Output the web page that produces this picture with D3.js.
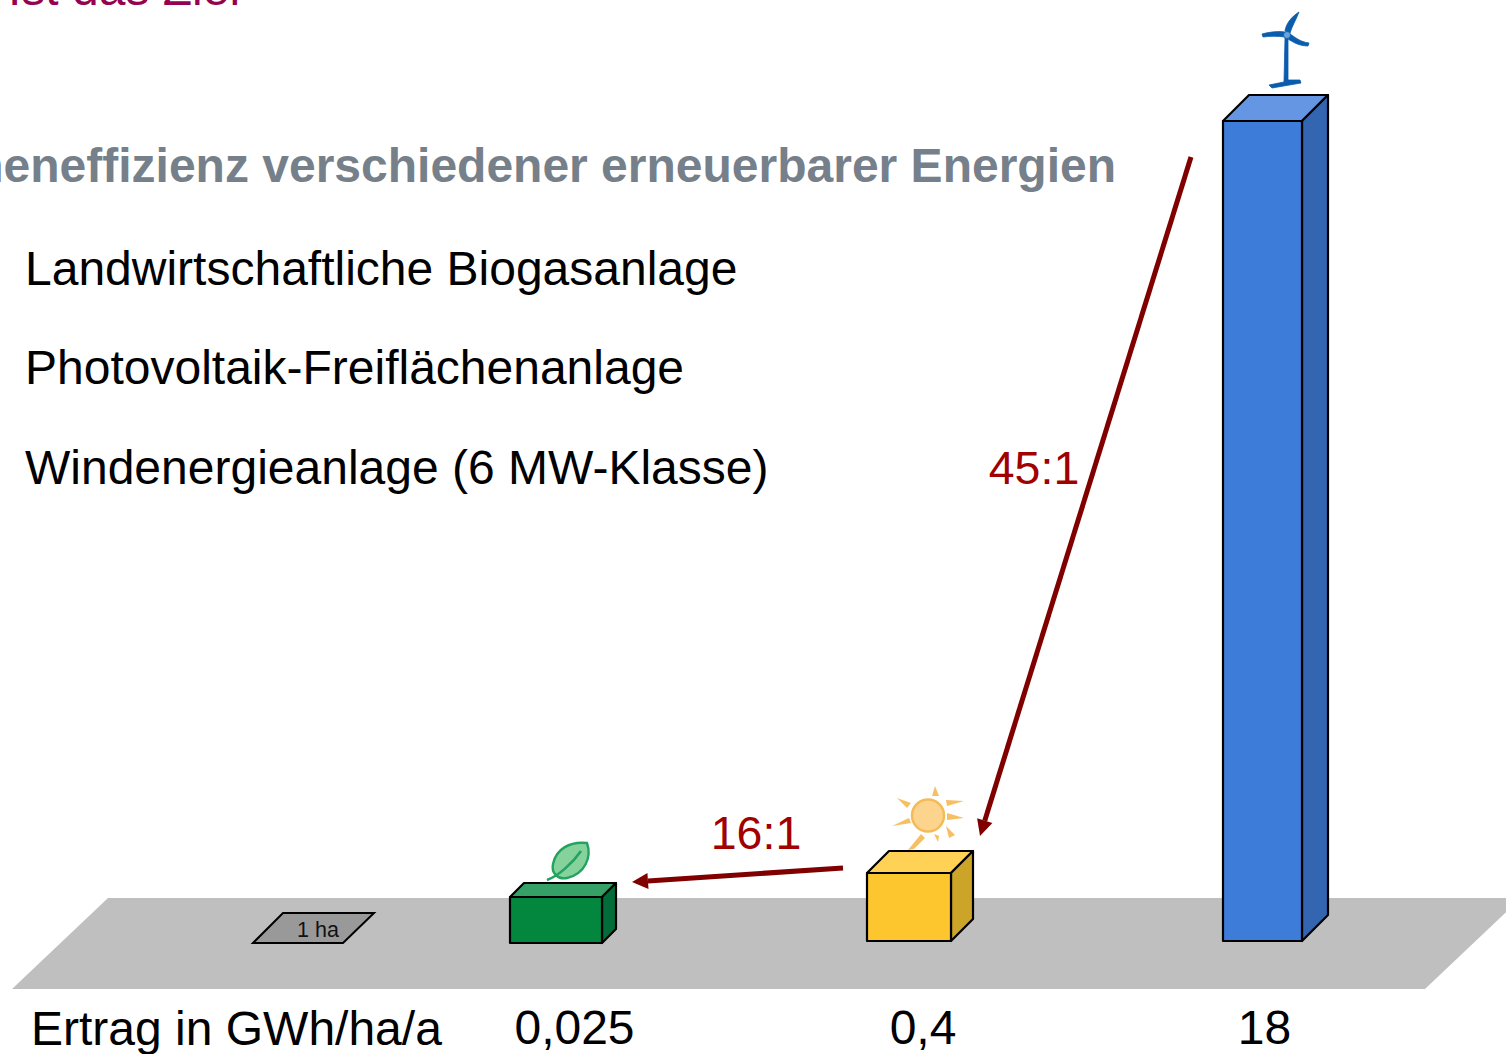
<!DOCTYPE html>
<html>
<head>
<meta charset="utf-8">
<script src="https://cdnjs.cloudflare.com/ajax/libs/d3/7.8.5/d3.min.js"></script>
<style>
  html, body { margin: 0; padding: 0; background: #fff; overflow: hidden; }
  svg { display: block; }
  text { font-family: "Liberation Sans", Arial, sans-serif; }
</style>
</head>
<body>
<div id="chart"></div>
<script>
var w = 1506;
var h = 1054;

// data
var categories = ["Landwirtschaftliche Biogasanlage", "Photovoltaik-Freiflächenanlage", "Windenergieanlage (6 MW-Klasse)"];
var yields = [0.025, 0.4, 18];
var yieldLabels = ["0,025", "0,4", "18"];
var ratios = ["16:1", "45:1"];
var heading = "Flächeneffizienz verschiedener erneuerbarer Energien";
var topLine = "Ist das Ziel";
var axisTitle = "Ertrag in GWh/ha/a";
var areaLabel = "1 ha";

// the bars in the original are not to scale, so the scale is piecewise
var y = d3.scaleLinear().domain([0.025, 0.4, 18]).range([897, 873, 121]);
var x = d3.scaleOrdinal().domain(categories).range([510, 867, 1223]);
var barW = d3.scaleOrdinal().domain(categories).range([92, 84, 79]);
var depth = d3.scaleOrdinal().domain(categories).range([14, 22, 26]);
var base = d3.scaleOrdinal().domain(categories).range([943, 941, 941]);
var labelX = d3.scaleOrdinal().domain(categories).range([574.5, 923, 1264.5]);
var front = d3.scaleOrdinal().domain(categories).range(["#03873f", "#fdc62f", "#3d7cd9"]);
var topCol = d3.scaleOrdinal().domain(categories).range(["#35a167", "#ffd155", "#6496e3"]);
var side = d3.scaleOrdinal().domain(categories).range(["#036c38", "#cca428", "#3365b0"]);

var bars = categories.map(function(c, i){ return {name: c, value: yields[i], label: yieldLabels[i]}; });

var svg = d3.select("#chart").append("svg")
            .attr("width", w)
            .attr("height", h)
            .attr("viewBox", "0 0 " + w + " " + h);

// floor
svg.append("polygon")
   .attr("points", "108,898 1521,898 1425,989 12,989")
   .attr("fill", "#bfbfbf");

// 1 ha plot
svg.append("polygon")
   .attr("points", "253,943 283,913 374,913 343,943")
   .attr("fill", "#999999")
   .attr("stroke", "#000")
   .attr("stroke-width", 2);
svg.append("text")
   .attr("x", 318).attr("y", 937)
   .attr("text-anchor", "middle")
   .attr("font-size", 21.5)
   .attr("fill", "#111")
   .text(areaLabel);

// texts
svg.append("text").attr("x", 8).attr("y", 5)
   .attr("font-size", 48).attr("fill", "#960050").text(topLine);

svg.append("text").attr("x", 1116).attr("y", 182)
   .attr("text-anchor", "end")
   .attr("font-size", 48).attr("font-weight", "bold").attr("fill", "#76808a")
   .text(heading);

svg.append("g").selectAll("text")
   .data(categories)
   .enter().append("text")
   .attr("x", 25)
   .attr("y", function(d, i){ return 285 + i * 99.3; })
   .attr("font-size", 48)
   .attr("fill", "#000")
   .text(function(d){ return d; });

// bars
var bar = svg.append("g").selectAll("g")
   .data(bars)
   .enter().append("g")
   .attr("stroke", "#000")
   .attr("stroke-width", 2.2)
   .attr("stroke-linejoin", "round");

bar.append("path") // top face
   .attr("fill", function(d){ return topCol(d.name); })
   .attr("d", function(d){
     var x0 = x(d.name), x1 = x0 + barW(d.name), t = y(d.value), e = depth(d.name);
     return "M" + x0 + "," + t + "L" + (x0 + e) + "," + (t - e) + "L" + (x1 + e) + "," + (t - e) + "L" + x1 + "," + t + "Z";
   });

bar.append("path") // side face
   .attr("fill", function(d){ return side(d.name); })
   .attr("d", function(d){
     var x1 = x(d.name) + barW(d.name), t = y(d.value), e = depth(d.name), b = base(d.name);
     return "M" + x1 + "," + t + "L" + (x1 + e) + "," + (t - e) + "L" + (x1 + e) + "," + (b - e) + "L" + x1 + "," + b + "Z";
   });

bar.append("rect") // front face
   .attr("x", function(d){ return x(d.name); })
   .attr("y", function(d){ return y(d.value); })
   .attr("width", function(d){ return barW(d.name); })
   .attr("height", function(d){ return base(d.name) - y(d.value); })
   .attr("fill", function(d){ return front(d.name); });

// value labels
svg.append("g").selectAll("text")
   .data(bars)
   .enter().append("text")
   .attr("x", function(d){ return labelX(d.name); })
   .attr("y", 1044)
   .attr("text-anchor", "middle")
   .attr("font-size", 48)
   .attr("fill", "#000")
   .text(function(d){ return d.label; });

svg.append("text").attr("x", 31).attr("y", 1045)
   .attr("font-size", 48).attr("fill", "#000").text(axisTitle);

// ratio arrows
function arrow(x0, y0, x1, y1){
  var a = Math.atan2(y1 - y0, x1 - x0), len = 16, half = 8;
  var bx = x1 - len * Math.cos(a), by = y1 - len * Math.sin(a);
  svg.append("line")
     .attr("x1", x0).attr("y1", y0).attr("x2", bx).attr("y2", by)
     .attr("stroke", "#800000").attr("stroke-width", 5);
  svg.append("polygon")
     .attr("points", [
       [x1, y1],
       [bx - half * Math.sin(a), by + half * Math.cos(a)],
       [bx + half * Math.sin(a), by - half * Math.cos(a)]
     ].join(" "))
     .attr("fill", "#800000");
}
arrow(843, 868, 632, 882);
arrow(1191, 157, 980, 836);

svg.append("text").attr("x", 756).attr("y", 849)
   .attr("text-anchor", "middle").attr("font-size", 46.5).attr("fill", "#a00000").text(ratios[0]);
svg.append("text").attr("x", 1034).attr("y", 484)
   .attr("text-anchor", "middle").attr("font-size", 46.5).attr("fill", "#a00000").text(ratios[1]);

// turbine icon
var turbine = svg.append("g").attr("fill", "#0a5cac").attr("stroke", "#0a5cac").attr("stroke-width", 0.8).attr("stroke-linejoin", "round");
turbine.append("path").attr("d", "M1285,38L1288,38L1288,80L1300,80L1301,83L1272,88L1269,85L1284,82Z");
turbine.append("path").attr("d", "M1285,31C1286,24 1291,17 1299,12C1296,20 1292,26 1290,33Z");
turbine.append("path").attr("d", "M1285,32C1277,31 1269,32 1262,34L1263,37C1270,36 1278,36 1285,37Z");
turbine.append("path").attr("d", "M1290,34C1295,37 1300,42 1309,43L1308,46C1299,46 1293,42 1288,39Z");
turbine.append("circle").attr("cx", 1287).attr("cy", 35).attr("r", 3.5)
       .attr("fill", "#6ea3d8");

// sun icon
var sun = svg.append("g");
sun.append("circle").attr("cx", 928).attr("cy", 815.5).attr("r", 16)
   .attr("fill", "#fcd48d").attr("stroke", "#f4bc58").attr("stroke-width", 2.5);
var rays = [
  "M935,786L939,796L932,796Z",
  "M897,798L911,803L907,808Z",
  "M964,801L946,800L947,806Z",
  "M892,826L909,818L911,823Z",
  "M964,818L947,813L947,820Z",
  "M946,826L955,835L949,838Z",
  "M921,834L908,850L914,849L925,838Z",
  "M934,834L939,836L938,842Z"
];
sun.selectAll("path")
   .data(rays)
   .enter().append("path")
   .attr("d", function(d){ return d; })
   .attr("fill", "#f6bf62");

// leaf icon
var leaf = svg.append("g");
leaf.append("path")
    .attr("d", "M553,864C556,849 570,841 587,843C592,857 585,874 567,878C558,880 551,873 553,864Z")
    .attr("fill", "#85d29c").attr("stroke", "#23a35f").attr("stroke-width", 2.4);
leaf.append("path")
    .attr("d", "M547,880C558,876 572,864 581,851")
    .attr("fill", "none").attr("stroke", "#23a35f").attr("stroke-width", 2.6);
</script>
</body>
</html>
